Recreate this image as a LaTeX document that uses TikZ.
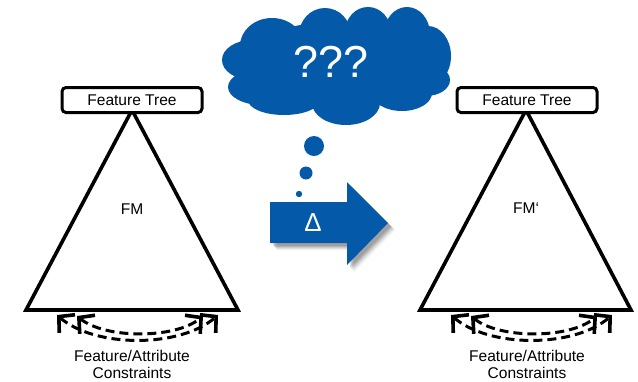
\documentclass[tikz,border=0pt]{standalone}
\usepackage{fontspec}
\setmainfont{Liberation Sans}
\usetikzlibrary{arrows.meta}
\definecolor{fmblue}{RGB}{4,89,169}
\begin{document}
\begin{tikzpicture}[x=1bp,y=-1bp,
  treebox/.style={draw, line width=3bp, rounded corners=4bp, minimum width=140bp,
    minimum height=25bp, inner sep=0pt, fill=white, font=\fontsize{15.6}{18}\selectfont},
  fmedge/.style={line width=3.6bp, line join=miter},
  fmlabel/.style={font=\fontsize{15.6}{18}\selectfont, inner sep=0pt},
  caption/.style={font=\fontsize{15.6}{17}\selectfont, align=center, inner sep=0pt},
  barb/.tip={Straight Barb[length=11bp,width=24bp,line width=3.6bp]},
  constraint/.style={line width=3bp, dash pattern=on 9bp off 5bp, barb-barb},
  cloudpart/.style={fill=fmblue, draw=none},
]
\useasboundingbox (0,0) rectangle (638,381);

% ---------- left feature model ----------
\coordinate (lA) at (132,110);
\coordinate (lL) at (26,310);
\coordinate (lR) at (238,310);
\draw[fmedge] (lA) -- (lR) -- (lL) -- cycle;
\node[treebox] (ltree) at (132,100) {Feature Tree};
\node[fmlabel] (lfm) at (132,209) {FM};
\coordinate (lo1) at (57,315);  \coordinate (lo2) at (218,315);
\coordinate (li1) at (77,316);  \coordinate (li2) at (203,316);
\draw[constraint] (lo1) .. controls (95,348) and (180,348) .. (lo2);
\draw[constraint] (li1) .. controls (105,339) and (175,339) .. (li2);
\node[caption] (lcap) at (132,364) {Feature/Attribute\\Constraints};

% ---------- right feature model ----------
\coordinate (rA) at (526,110);
\coordinate (rL) at (420,310);
\coordinate (rR) at (631,310);
\draw[fmedge] (rA) -- (rR) -- (rL) -- cycle;
\node[treebox] (rtree) at (527,100) {Feature Tree};
\node[fmlabel] (rfm) at (526,208) {FM‘};
\coordinate (ro1) at (451,315);  \coordinate (ro2) at (612,315);
\coordinate (ri1) at (471,316);  \coordinate (ri2) at (597,316);
\draw[constraint] (ro1) .. controls (489,348) and (574,348) .. (ro2);
\draw[constraint] (ri1) .. controls (499,339) and (569,339) .. (ri2);
\node[caption] (rcap) at (527,364) {Feature/Attribute\\Constraints};

% ---------- thought cloud ----------
\fill[cloudpart] (335,66) ellipse [x radius=95, y radius=44];
\fill[cloudpart] (272,46) ellipse [x radius=32, y radius=28];
\fill[cloudpart] (325,35) ellipse [x radius=26, y radius=27];
\fill[cloudpart] (368,32) ellipse [x radius=23, y radius=25];
\fill[cloudpart] (407,34) ellipse [x radius=23, y radius=27];
\fill[cloudpart] (428,56) ellipse [x radius=23, y radius=30];
\fill[cloudpart] (252,60) ellipse [x radius=30, y radius=20];
\fill[cloudpart] (262,87) ellipse [x radius=34, y radius=18];
\fill[cloudpart] (284,100) ellipse [x radius=36, y radius=15];
\fill[cloudpart] (346,103) ellipse [x radius=34, y radius=22];
\fill[cloudpart] (402,93) ellipse [x radius=30, y radius=18];
\fill[cloudpart] (426,80) ellipse [x radius=24, y radius=16];
\node[text=white, font=\fontsize{45}{50}\selectfont, inner sep=0pt] (think) at (331,62) {???};
\fill[cloudpart] (314,146) circle [radius=10];
\fill[cloudpart] (306,173) circle [radius=6.5];
\fill[cloudpart] (299,194) circle [radius=3.2];

% ---------- delta arrow with soft shadow ----------
\foreach \d/\o in {7/0.05, 6/0.07, 5/0.09, 4/0.11, 3/0.12} {
  \fill[black, opacity=\o, shift={(\d bp,-\d bp)}]
    (270,202) -- (347,202) -- (347,182) -- (388,223) -- (347,265) -- (347,243) -- (270,243) -- cycle;
}
\fill[fmblue] (270,202) -- (347,202) -- (347,182) -- (388,223) -- (347,265) -- (347,243) -- (270,243) -- cycle;
\node[text=white, font=\fontsize{26}{30}\selectfont, inner sep=0pt] (delta) at (313,223) {Δ};
\end{tikzpicture}
\end{document}
